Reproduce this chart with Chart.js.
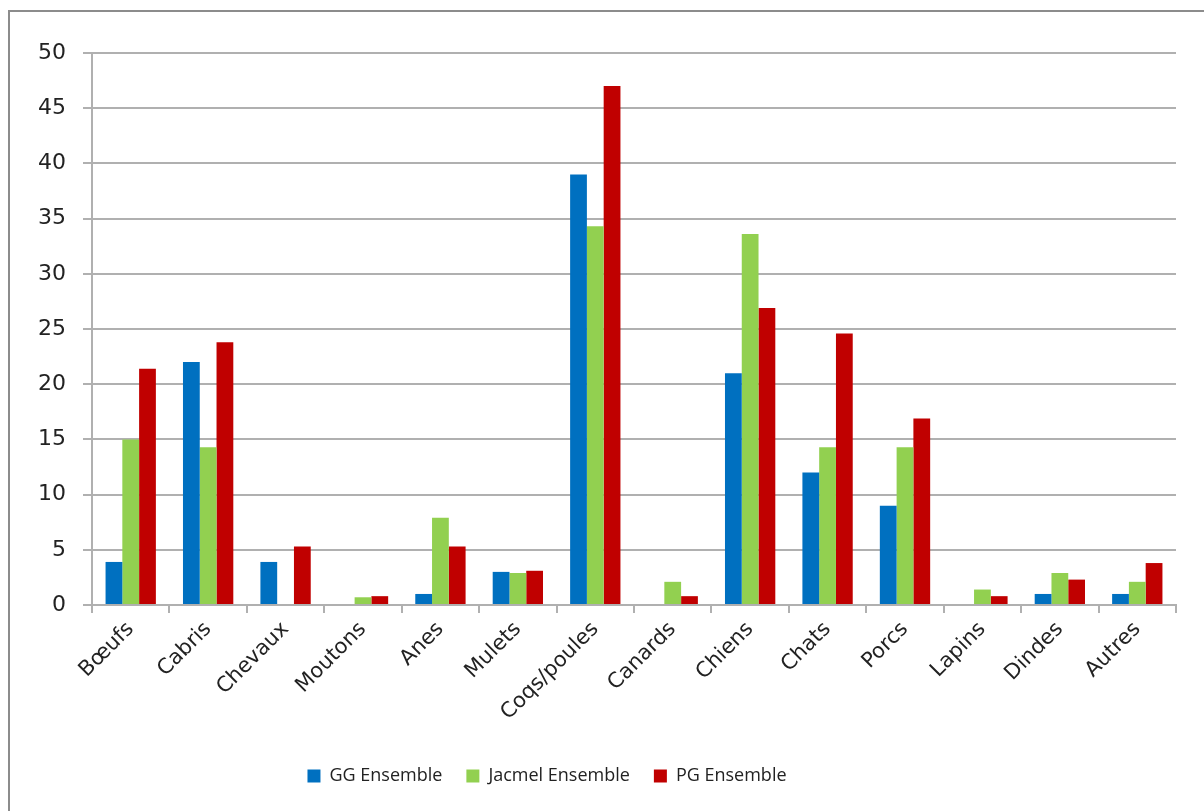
<!DOCTYPE html>
<html>
<head>
<meta charset="utf-8">
<script src="https://cdn.jsdelivr.net/npm/chart.js@4"></script>
<style>
  body { margin: 0; background: #fff; overflow: hidden; }
  #wrap { position: absolute; left: 0; top: 0; width: 1204px; height: 811px; }
  #frame { position: absolute; left: 8px; top: 10px; width: 1220px; height: 830px;
           border: 2px solid #8c8c8c; box-sizing: border-box; pointer-events: none; }
</style>
</head>
<body>
<div id="wrap">
  <canvas id="myChart" width="1204" height="811"></canvas>
  <div id="frame"></div>
</div>
<script>
var animals = ["Bœufs", "Cabris", "Chevaux", "Moutons", "Anes", "Mulets", "Coqs/poules",
               "Canards", "Chiens", "Chats", "Porcs", "Lapins", "Dindes", "Autres"]
var ggValues = [3.9, 22, 3.9, 0, 1, 3, 39, 0, 21, 12, 9, 0, 1, 1]
var jacmelValues = [15, 14.3, 0, 0.7, 7.9, 2.9, 34.3, 2.1, 33.6, 14.3, 14.3, 1.4, 2.9, 2.1]
var pgValues = [21.4, 23.8, 5.3, 0.8, 5.3, 3.1, 47, 0.8, 26.9, 24.6, 16.9, 0.8, 2.3, 3.8]
var seriesNames = ["GG Ensemble", "Jacmel Ensemble", "PG Ensemble"]
var barColor = ["#0070C0", "#92D050", "#C00000"]

Chart.defaults.font.family = "'DejaVu Sans', sans-serif";
Chart.defaults.color = "#222";

// legend sits a bit left of the plot centre in the original
var shiftLegend = {
  id: "shiftLegend",
  afterLayout: function(chart) {
    chart.legend.left -= 41;
    chart.legend.right -= 41;
  }
};

new Chart("myChart", {
  type: "bar",
  data: {
    labels: animals,
    datasets: [
      { label: seriesNames[0], data: ggValues, backgroundColor: barColor[0] },
      { label: seriesNames[1], data: jacmelValues, backgroundColor: barColor[1] },
      { label: seriesNames[2], data: pgValues, backgroundColor: barColor[2] }
    ]
  },
  plugins: [shiftLegend],
  options: {
    responsive: false,
    animation: false,
    layout: { padding: { top: 53, right: 28, bottom: 16, left: 0 } },
    datasets: { bar: { categoryPercentage: 0.65, barPercentage: 1.0 } },
    plugins: {
      legend: {
        position: "bottom",
        labels: {
          boxWidth: 13, boxHeight: 13, padding: 24,
          font: { size: 18, family: "'Open Sans', sans-serif" }, color: "#222"
        }
      },
      tooltip: { enabled: false }
    },
    scales: {
      y: {
        min: 0, max: 50,
        ticks: { stepSize: 5, padding: 17, font: { size: 22 }, color: "#222" },
        grid: { color: "#b0b0b0", lineWidth: 2, tickLength: 9 },
        border: { color: "#b0b0b0", width: 2 },
        afterFit: function(s) { s.width = 92; }
      },
      x: {
        ticks: { maxRotation: 45, minRotation: 45, font: { size: 21 }, color: "#222", padding: 4 },
        grid: { display: true, drawOnChartArea: false, color: "#b0b0b0", lineWidth: 2, tickLength: 8, offset: true },
        border: { color: "#b0b0b0", width: 2 },
        afterFit: function(s) { s.height = 138; }
      }
    }
  }
});
</script>
</body>
</html>
